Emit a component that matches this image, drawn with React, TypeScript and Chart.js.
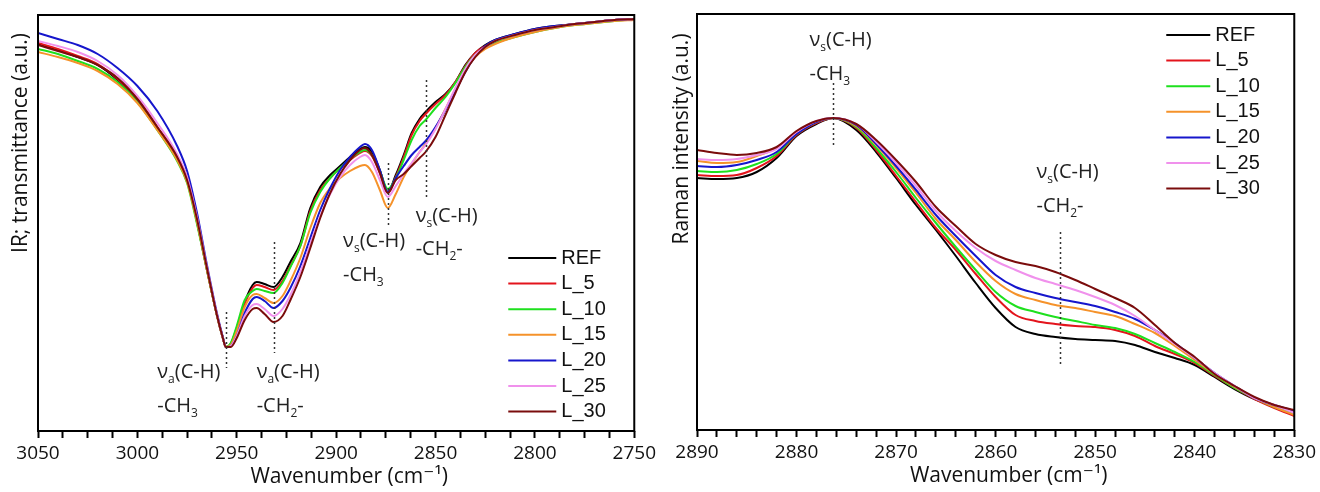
import React, { useEffect, useRef } from 'react';
import { Chart, registerables } from 'chart.js';

Chart.register(...registerables);

const FONT = "'Open Sans', 'DejaVu Sans', sans-serif";
const LEGEND_FONT = "'Liberation Sans', Arial, sans-serif";

const SERIES_NAMES = ['REF', 'L_5', 'L_10', 'L_15', 'L_20', 'L_25', 'L_30'];
const SERIES_COLORS = ['#000000', '#e3141c', '#1ee01e', '#f5922a', '#1616cc', '#f091ec', '#7a0c0c'];

// ---------- IR (left) ----------
const IR_WAVENUMBER = [3050, 3040, 3030, 3020, 3010, 3000, 2990, 2980, 2975, 2970, 2965, 2960, 2957, 2955.5, 2953, 2950, 2946, 2942, 2940, 2936, 2931.5, 2927, 2923, 2918, 2913, 2908, 2903, 2898, 2893, 2888, 2885.5, 2882, 2878, 2874, 2870, 2866, 2862, 2858, 2855, 2850, 2845, 2840, 2835, 2830, 2825, 2820, 2810, 2800, 2790, 2780, 2770, 2760, 2750];
const IR_REF = [387, 381, 374, 366, 351, 331, 303, 273, 253, 209, 161, 116, 93, 84, 87, 103, 129, 146, 149, 147, 144, 154, 169, 188, 223, 244, 256, 265, 274, 282, 284, 279, 261, 239, 256, 276, 298, 312, 319, 329, 337, 349, 366, 378, 386, 391, 397, 402, 405, 407, 409, 411, 412];
const IR_L5 = [388, 382, 375, 367, 352, 332, 304, 274, 253, 210, 162, 116, 93, 84, 87, 102, 127, 143, 146, 144, 141, 150, 165, 185, 220, 241, 253, 263, 271, 278, 280, 275, 258, 238, 254, 274, 296, 310, 317, 327, 336, 349, 365, 378, 385, 390, 396, 401, 404, 407, 409, 411, 412];
const IR_L10 = [382, 377, 370, 362, 349, 329, 301, 270, 248, 207, 161, 116, 93, 84, 88, 105, 131, 140, 142, 140, 138, 148, 164, 185, 218, 239, 253, 263, 272, 279, 281, 276, 260, 242, 253, 271, 291, 305, 311, 323, 334, 348, 364, 376, 383, 388, 394, 399, 403, 406, 408, 410, 412];
const IR_L15 = [379, 374, 368, 360, 347, 328, 301, 271, 249, 209, 161, 116, 93, 84, 86, 100, 124, 136, 137, 133, 128, 135, 150, 173, 203, 228, 243, 253, 260, 265, 266, 259, 241, 223, 237, 254, 267, 279, 287, 303, 322, 342, 361, 374, 382, 387, 394, 399, 403, 406, 408, 410, 411];
const IR_L20 = [398, 392, 386, 377, 363, 345, 320, 285, 260, 218, 166, 118, 94, 84, 85, 95, 118, 132, 134, 130, 123, 130, 143, 165, 193, 221, 243, 261, 274, 284, 287, 281, 261, 239, 253, 265, 276, 284, 290, 304, 321, 340, 359, 375, 385, 391, 397, 402, 405, 407, 409, 411, 412];
const IR_L25 = [390, 385, 379, 370, 356, 335, 308, 277, 254, 214, 164, 117, 93, 84, 85, 95, 115, 126, 127, 122, 115, 122, 136, 159, 187, 215, 237, 254, 266, 274, 276, 269, 251, 234, 245, 257, 268, 279, 286, 302, 322, 343, 362, 376, 384, 390, 396, 401, 404, 407, 409, 411, 412];
const IR_L30 = [386, 380, 374, 366, 353, 332, 304, 274, 251, 212, 163, 116, 93, 84, 84, 93, 111, 122, 123, 117, 109, 115, 131, 154, 183, 213, 238, 257, 271, 281, 283, 276, 258, 238, 251, 257, 265, 273, 279, 294, 316, 338, 359, 374, 384, 390, 396, 401, 404, 407, 409, 411, 412];
const IR_TICK_LABELS = [3050, 3000, 2950, 2900, 2850, 2800, 2750];
const IR_MARKERS = [
  { wn: 2955.5, from: 63, to: 119 },
  { wn: 2931.5, from: 78, to: 189 },
  { wn: 2874, from: 206, to: 268 },
  { wn: 2855, from: 234, to: 351 },
];
const IR_LABELS = [
  { wn: 2990, y1: 59, y2: 25, mode: 'a', groupSub: '3', tail: '' },
  { wn: 2940, y1: 59, y2: 25, mode: 'a', groupSub: '2', tail: '-' },
  { wn: 2896.5, y1: 190, y2: 156, mode: 's', groupSub: '3', tail: '' },
  { wn: 2860, y1: 215, y2: 182, mode: 's', groupSub: '2', tail: '-' },
];

// ---------- Raman (right) ----------
const RAMAN_WAVENUMBER = [2890, 2888, 2886, 2884, 2882, 2880, 2878, 2876.3, 2874, 2872, 2870, 2868, 2866, 2864, 2862, 2860, 2858, 2856, 2854, 2852, 2850, 2848, 2846, 2844, 2842, 2840, 2838, 2836, 2834, 2832, 2830];
const RAMAN_REF = [252, 251, 252, 258, 272, 294, 306, 312, 300, 278, 252, 225, 200, 174, 147, 122, 103, 96, 93, 91, 90, 89, 85, 78, 72, 65, 53, 41, 31, 24, 17];
const RAMAN_L5 = [255, 254, 255, 262, 274, 295, 307, 312, 302, 280, 254, 228, 202, 180, 156, 133, 115, 109, 106, 104, 103, 100, 94, 84, 76, 67, 54, 42, 31, 22, 14];
const RAMAN_L10 = [259, 258, 260, 266, 276, 296, 308, 312, 303, 282, 258, 232, 207, 183, 160, 138, 124, 118, 113, 109, 105, 102, 96, 87, 78, 68, 55, 42, 32, 23, 16];
const RAMAN_L15 = [269, 267, 268, 274, 282, 298, 308, 312, 304, 285, 262, 237, 211, 190, 168, 149, 136, 130, 125, 122, 118, 114, 106, 97, 84, 70, 56, 43, 32, 23, 15];
const RAMAN_L20 = [264, 263, 265, 270, 278, 296, 308, 312, 305, 286, 264, 240, 215, 194, 174, 155, 143, 137, 132, 128, 124, 118, 111, 100, 87, 72, 57, 44, 32, 25, 19];
const RAMAN_L25 = [271, 270, 271, 275, 281, 298, 309, 312, 306, 288, 267, 244, 219, 199, 182, 169, 160, 152, 146, 140, 133, 125, 114, 100, 86, 72, 57, 44, 32, 25, 17];
const RAMAN_L30 = [280, 277, 275, 277, 283, 299, 309, 312, 306, 290, 270, 248, 223, 204, 186, 175, 168, 164, 158, 150, 141, 132, 122, 105, 87, 73, 56, 44, 33, 25, 20];
const RAMAN_TICK_LABELS = [2890, 2880, 2870, 2860, 2850, 2840, 2830];
const RAMAN_MARKERS = [
  { wn: 2876.3, from: 285, to: 347 },
  { wn: 2853.5, from: 63, to: 198 },
];
const RAMAN_LABELS = [
  { wn: 2878.7, y1: 390, y2: 356, mode: 's', groupSub: '3', tail: '' },
  { wn: 2855.9, y1: 258, y2: 224, mode: 's', groupSub: '2', tail: '-' },
];

function minorTicks(labels: number[], parts: number): number[] {
  const out: number[] = [];
  for (let i = 0; i < labels.length - 1; i++) {
    const a = labels[i];
    const b = labels[i + 1];
    for (let k = 0; k < parts; k++) out.push(a + ((b - a) * k) / parts);
  }
  out.push(labels[labels.length - 1]);
  return out;
}

type Spec = {
  id: string;
  left: number;
  wn: number[];
  series: number[][];
  tickLabels: number[];
  minorParts: number;
  xMin: number;
  xMax: number;
  yMax: number;
  padding: { left: number; right: number; top: number; bottom: number };
  axisHeight: number;
  yTitle: string;
  yTitleX: number;
  yTitleY: number;
  xTitleShift: number;
  markers: { wn: number; from: number; to: number }[];
  labels: { wn: number; y1: number; y2: number; mode: string; groupSub: string; tail: string }[];
  legendFromRight: number;
  legendTop: number;
  legendLine: number;
};

const IR_SPEC: Spec = {
  id: 'ir',
  left: 0,
  wn: IR_WAVENUMBER,
  series: [IR_REF, IR_L5, IR_L10, IR_L15, IR_L20, IR_L25, IR_L30],
  tickLabels: IR_TICK_LABELS,
  minorParts: 4,
  xMin: 2750,
  xMax: 3050,
  yMax: 416,
  padding: { left: 38, right: 22, top: 15, bottom: 0 },
  axisHeight: 61,
  yTitle: 'IR; transmittance (a.u.)',
  yTitleX: 21,
  yTitleY: 143,
  xTitleShift: 13,
  markers: IR_MARKERS,
  labels: IR_LABELS,
  legendFromRight: 126,
  legendTop: 243,
  legendLine: 48,
};

const RAMAN_SPEC: Spec = {
  id: 'raman',
  left: 660,
  wn: RAMAN_WAVENUMBER,
  series: [RAMAN_REF, RAMAN_L5, RAMAN_L10, RAMAN_L15, RAMAN_L20, RAMAN_L25, RAMAN_L30],
  tickLabels: RAMAN_TICK_LABELS,
  minorParts: 5,
  xMin: 2830,
  xMax: 2890,
  yMax: 416,
  padding: { left: 37, right: 23, top: 14, bottom: 0 },
  axisHeight: 62,
  yTitle: 'Raman intensity (a.u.)',
  yTitleX: 22,
  yTitleY: 139,
  xTitleShift: 13,
  markers: RAMAN_MARKERS,
  labels: RAMAN_LABELS,
  legendFromRight: 128,
  legendTop: 21,
  legendLine: 44,
};

function makeDecor(spec: Spec) {
  return {
    id: 'decor_' + spec.id,
    afterDraw(chart: any) {
      const { ctx, chartArea: a, scales } = chart;
      const xs = scales.x;
      const ys = scales.y;
      ctx.save();
      // frame
      ctx.strokeStyle = '#000';
      ctx.lineWidth = 2;
      ctx.strokeRect(a.left, a.top, a.right - a.left, a.bottom - a.top);

      // dotted markers
      ctx.strokeStyle = '#333';
      ctx.lineWidth = 1.5;
      ctx.setLineDash([2, 3]);
      spec.markers.forEach((m) => {
        const x = Math.round(xs.getPixelForValue(m.wn)) + 0.5;
        ctx.beginPath();
        ctx.moveTo(x, ys.getPixelForValue(m.to));
        ctx.lineTo(x, ys.getPixelForValue(m.from));
        ctx.stroke();
      });
      ctx.setLineDash([]);

      // annotation labels
      ctx.fillStyle = '#222';
      ctx.textAlign = 'left';
      ctx.textBaseline = 'middle';
      spec.labels.forEach((l) => {
        const x0 = xs.getPixelForValue(l.wn);
        const y1 = ys.getPixelForValue(l.y1);
        const y2 = ys.getPixelForValue(l.y2);
        let cx = x0;
        ctx.font = `20px ${FONT}`;
        ctx.fillText('ν', cx, y1);
        cx += ctx.measureText('ν').width;
        ctx.font = `12px ${FONT}`;
        ctx.fillText(l.mode, cx, y1 + 8);
        cx += ctx.measureText(l.mode).width;
        ctx.font = `20px ${FONT}`;
        ctx.fillText('(C-H)', cx, y1);
        cx = x0;
        ctx.fillText('-CH', cx, y2);
        cx += ctx.measureText('-CH').width;
        ctx.font = `12px ${FONT}`;
        ctx.fillText(l.groupSub, cx, y2 + 8);
        cx += ctx.measureText(l.groupSub).width;
        if (l.tail) {
          ctx.font = `20px ${FONT}`;
          ctx.fillText(l.tail, cx, y2);
        }
      });

      // legend
      const lx = a.right - spec.legendFromRight;
      SERIES_NAMES.forEach((name, i) => {
        const y = a.top + spec.legendTop + i * 25.6;
        ctx.strokeStyle = SERIES_COLORS[i];
        ctx.lineWidth = 2;
        ctx.beginPath();
        ctx.moveTo(lx, y);
        ctx.lineTo(lx + spec.legendLine, y);
        ctx.stroke();
        ctx.fillStyle = '#111';
        ctx.font = `20px ${LEGEND_FONT}`;
        ctx.textAlign = 'left';
        ctx.textBaseline = 'middle';
        ctx.fillText(name, lx + spec.legendLine + 5, y);
      });

      // axis titles
      ctx.fillStyle = '#111';
      ctx.font = `21px ${FONT}`;
      ctx.textAlign = 'center';
      ctx.textBaseline = 'middle';
      ctx.fillText('Wavenumber (cm⁻¹)', (a.left + a.right) / 2 + spec.xTitleShift, a.bottom + 46);
      ctx.translate(spec.yTitleX, spec.yTitleY);
      ctx.rotate(-Math.PI / 2);
      ctx.fillText(spec.yTitle, 0, 0);
      ctx.restore();
    },
  };
}

function SpectrumChart({ spec }: { spec: Spec }) {
  const ref = useRef<HTMLCanvasElement>(null);
  useEffect(() => {
    const tickValues = minorTicks(spec.tickLabels, spec.minorParts);
    const chart = new Chart(ref.current as HTMLCanvasElement, {
      type: 'line',
      data: {
        datasets: SERIES_NAMES.map((name, i) => ({
          label: name,
          data: spec.wn.map((w, j) => ({ x: w, y: spec.series[i][j] })),
          borderColor: SERIES_COLORS[i],
          backgroundColor: SERIES_COLORS[i],
          borderWidth: 2,
          pointRadius: 0,
          fill: false,
          cubicInterpolationMode: 'monotone',
          order: SERIES_NAMES.length - i,
        })),
      } as any,
      options: {
        animation: false,
        responsive: false,
        devicePixelRatio: 1,
        events: [],
        layout: { padding: spec.padding },
        plugins: { legend: { display: false }, tooltip: { enabled: false } },
        scales: {
          x: {
            type: 'linear',
            reverse: true,
            min: spec.xMin,
            max: spec.xMax,
            afterBuildTicks: (s: any) => {
              s.ticks = tickValues.map((v) => ({ value: v }));
            },
            afterFit: (s: any) => {
              s.height = spec.axisHeight;
            },
            border: { display: false },
            grid: {
              drawOnChartArea: false,
              drawTicks: true,
              tickLength: 7,
              tickWidth: 2,
              tickColor: '#000',
            },
            ticks: {
              autoSkip: false,
              maxRotation: 0,
              minRotation: 0,
              padding: 4,
              color: '#111',
              font: { family: FONT, size: 19 },
              callback: (v: any) => (spec.tickLabels.includes(Number(v)) ? String(v) : ''),
            },
          },
          y: { display: false, min: 0, max: spec.yMax },
        },
      } as any,
      plugins: [makeDecor(spec)],
    });
    return () => chart.destroy();
  }, [spec]);
  return (
    <canvas
      ref={ref}
      width={660}
      height={492}
      style={{ position: 'absolute', left: spec.left, top: 0, width: 660, height: 492 }}
    />
  );
}

export default function App() {
  return (
    <div style={{ position: 'fixed', left: 0, top: 0, width: 1320, height: 492, background: '#fff', overflow: 'hidden' }}>
      <SpectrumChart spec={IR_SPEC} />
      <SpectrumChart spec={RAMAN_SPEC} />
    </div>
  );
}
